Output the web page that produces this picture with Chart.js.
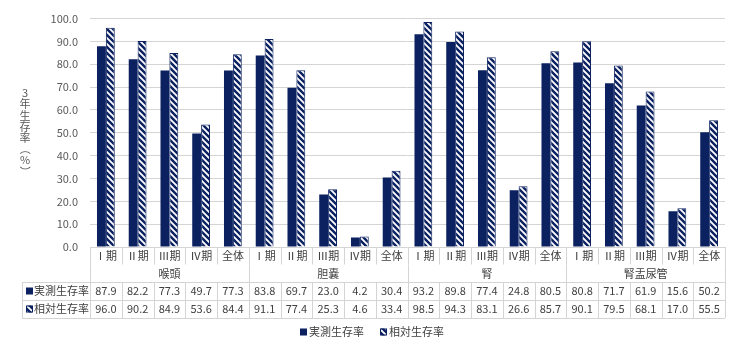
<!DOCTYPE html>
<html>
<head>
<meta charset="utf-8">
<script src="https://cdn.jsdelivr.net/npm/chart.js@4.4.1/dist/chart.umd.min.js"></script>
<style>
  html, body { margin: 0; padding: 0; background: #fff; }
  #wrap { width: 740px; height: 353px; }
</style>
</head>
<body>
<div id="wrap"><canvas id="survChart" width="740" height="353"></canvas></div>
<script>
// stages repeat for each cancer site
const stages = ["Ⅰ期", "Ⅱ期", "Ⅲ期", "Ⅳ期", "全体"];
const sites = ["喉頭", "胆嚢", "腎", "腎盂尿管"];
const categories = sites.flatMap((s) => stages.map((st) => st));

const observedLabel = "実測生存率";
const relativeLabel = "相対生存率";
const observed = [87.9, 82.2, 77.3, 49.7, 77.3, 83.8, 69.7, 23.0, 4.2, 30.4, 93.2, 89.8, 77.4, 24.8, 80.5, 80.8, 71.7, 61.9, 15.6, 50.2];
const relative = [96.0, 90.2, 84.9, 53.6, 84.4, 91.1, 77.4, 25.3, 4.6, 33.4, 98.5, 94.3, 83.1, 26.6, 85.7, 90.1, 79.5, 68.1, 17.0, 55.5];

const yTicks = [0, 10, 20, 30, 40, 50, 60, 70, 80, 90, 100];
const yTitle = ["3", "年", "生", "存", "率", "（", "%", "）"];

const NAVY = "#0b2160";
const FONT = "'Noto Sans CJK JP', 'Noto Sans', sans-serif";
const TXT = "#404040";
const LINE = "#d4d4d4";

function hatchPattern() {
  const s = 6;
  const c = document.createElement("canvas");
  c.width = s;
  c.height = s;
  const g = c.getContext("2d");
  g.fillStyle = "#fff";
  g.fillRect(0, 0, s, s);
  g.strokeStyle = NAVY;
  g.lineWidth = 2.4;
  g.beginPath();
  g.moveTo(0, 0); g.lineTo(s, s);
  g.moveTo(-3, s - 3); g.lineTo(3, s + 3);
  g.moveTo(s - 3, -3); g.lineTo(s + 3, 3);
  g.stroke();
  return g.createPattern(c, "repeat");
}

const ctx = document.getElementById("survChart").getContext("2d");
const hatch = hatchPattern();

// draws the data table under the bars, the y title and the legend
const tablePlugin = {
  id: "dataTable",
  afterDraw(chart) {
    const c = chart.ctx;
    const xs = chart.scales.x;
    const area = chart.chartArea;
    const step = xs.getPixelForValue(1) - xs.getPixelForValue(0);
    const right = area.right;
    const top = area.bottom;
    const rowCat = top + 17.5, rowGrp = top + 35, row1 = top + 53, row2 = top + 71;
    const labelLeft = 22;
    const edge = (i) => Math.round(xs.getPixelForValue(i) - step / 2) + 0.5;

    c.save();
    c.strokeStyle = LINE;
    c.lineWidth = 1;
    c.beginPath();
    // horizontal lines
    c.moveTo(labelLeft, Math.round(rowGrp) + 0.5); c.lineTo(right, Math.round(rowGrp) + 0.5);
    c.moveTo(labelLeft, Math.round(row1) + 0.5); c.lineTo(right, Math.round(row1) + 0.5);
    c.moveTo(labelLeft, Math.round(row2) + 0.5); c.lineTo(right, Math.round(row2) + 0.5);
    // vertical lines
    for (let i = 0; i <= categories.length; i++) {
      const x = i === categories.length ? Math.round(right) + 0.5 : edge(i);
      c.moveTo(x, top);
      c.lineTo(x, rowCat);
      if (i % stages.length === 0) {
        c.moveTo(x, rowCat);
        c.lineTo(x, rowGrp);
      }
      c.moveTo(x, rowGrp);
      c.lineTo(x, row2);
    }
    c.moveTo(labelLeft + 0.5, rowGrp); c.lineTo(labelLeft + 0.5, row2);
    c.stroke();

    c.fillStyle = TXT;
    c.font = "11px " + FONT;
    c.textAlign = "center";
    c.textBaseline = "middle";
    categories.forEach((lab, i) => {
      const x = xs.getPixelForValue(i);
      c.fillText(lab, x, top + 9);
      c.fillText(observed[i].toFixed(1), x, rowGrp + 9);
      c.fillText(relative[i].toFixed(1), x, row1 + 9);
    });
    sites.forEach((s, g) => {
      const a = xs.getPixelForValue(g * stages.length);
      const b = xs.getPixelForValue(g * stages.length + stages.length - 1);
      c.fillText(s, (a + b) / 2, rowCat + 9);
    });

    // row labels with legend keys
    const key = (x, y, pat) => {
      if (pat) {
        c.fillStyle = hatch;
        c.fillRect(x, y, 7, 7);
        c.strokeStyle = NAVY;
        c.lineWidth = 1;
        c.strokeRect(x + 0.5, y + 0.5, 6, 6);
      } else {
        c.fillStyle = NAVY;
        c.fillRect(x, y, 7, 7);
      }
    };
    c.textAlign = "left";
    key(26, rowGrp + 5.5, false);
    c.fillStyle = TXT;
    c.fillText(observedLabel, 34, rowGrp + 9);
    key(26, row1 + 5.5, true);
    c.fillStyle = TXT;
    c.fillText(relativeLabel, 34, row1 + 9);

    // legend at bottom
    const ly = 332;
    const w1 = c.measureText(observedLabel).width;
    const w2 = c.measureText(relativeLabel).width;
    const gap = 16;
    const total = 9 + w1 + gap + 9 + w2;
    let lx = chart.width / 2 - total / 2 + 2;
    key(lx, ly - 3.5, false);
    c.fillStyle = TXT;
    c.fillText(observedLabel, lx + 9, ly);
    lx += 9 + w1 + gap;
    key(lx, ly - 3.5, true);
    c.fillStyle = TXT;
    c.fillText(relativeLabel, lx + 9, ly);

    // vertical y-axis title
    c.textAlign = "center";
    c.fillStyle = "#595959";
    yTitle.forEach((ch, i) => {
      const y = 93 + i * 11.2;
      if (ch === "（" || ch === "）") {
        c.save();
        c.translate(25, y);
        c.rotate(Math.PI / 2);
        c.fillText(ch, 0, 0);
        c.restore();
      } else {
        c.fillText(ch, 25, y);
      }
    });
    c.restore();
  },
};

new Chart(ctx, {
  type: "bar",
  data: {
    labels: categories,
    datasets: [
      {
        label: observedLabel,
        data: observed,
        backgroundColor: NAVY,
        borderColor: NAVY,
        borderWidth: 0,
      },
      {
        label: relativeLabel,
        data: relative,
        backgroundColor: hatch,
        borderColor: NAVY,
        borderWidth: 1,
      },
    ],
  },
  options: {
    responsive: false,
    animation: false,
    events: [],
    layout: { padding: { left: 0, right: 15, top: 14, bottom: 106 } },
    datasets: { bar: { categoryPercentage: 0.56, barPercentage: 1.0 } },
    plugins: {
      legend: { display: false },
      tooltip: { enabled: false },
    },
    scales: {
      x: { display: false },
      y: {
        min: 0,
        max: 100,
        afterBuildTicks: (s) => { s.ticks = yTicks.map((v) => ({ value: v })); },
        afterFit: (s) => { s.width = 90; },
        border: { display: false },
        grid: { color: LINE, lineWidth: 1, drawTicks: false },
        ticks: {
          padding: 12,
          color: "#595959",
          font: { size: 11, family: FONT },
          callback: (v) => Number(v).toFixed(1),
        },
      },
    },
  },
  plugins: [tablePlugin],
});
</script>
</body>
</html>
